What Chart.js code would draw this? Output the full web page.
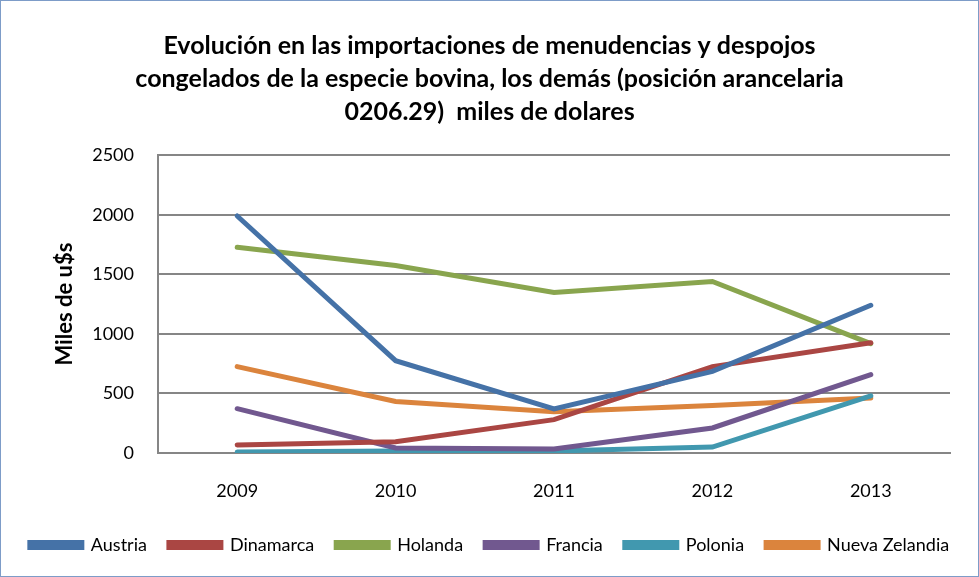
<!DOCTYPE html>
<html>
<head>
<meta charset="utf-8">
<script src="https://cdn.jsdelivr.net/npm/chart.js@4"></script>
<style>
  html, body { margin: 0; padding: 0; background: #fff; }
  #wrap { position: relative; width: 977px; height: 575px; border: 1px solid #7d9cc8; }
</style>
</head>
<body>
<div id="wrap"><canvas id="chart"></canvas></div>
<script>
// years on the x axis
var years = ['2009', '2010', '2011', '2012', '2013'];

// miles de u$s
var austria = [1990, 775, 370, 685, 1240];
var dinamarca = [68, 95, 280, 725, 925];
var holanda = [1728, 1575, 1348, 1440, 918];
var francia = [372, 42, 34, 210, 658];
var polonia = [8, 17, 17, 50, 480];
var nuevaZelandia = [725, 432, 346, 398, 462];

var seriesNames = ['Austria', 'Dinamarca', 'Holanda', 'Francia', 'Polonia', 'Nueva Zelandia'];
var seriesData = [austria, dinamarca, holanda, francia, polonia, nuevaZelandia];
var seriesColors = ['#4572a7', '#aa4643', '#89a54e', '#71588f', '#4198af', '#db843d'];

var font = "Lato, 'Open Sans', sans-serif";

const line_chart = (chartId) => {
    var datasets = seriesNames.map((name, i) => ({
        label: name,
        data: seriesData[i],
        borderColor: seriesColors[i],
        backgroundColor: seriesColors[i],
        borderWidth: 5,
        pointRadius: 0,
        tension: 0,
        borderCapStyle: 'round'
    }));

    new Chart(chartId, {
        type: 'line',
        data: { labels: years, datasets: datasets },
        options: {
            responsive: true,
            maintainAspectRatio: false,
            animation: false,
            layout: { padding: { left: 0, right: 0, top: 0, bottom: 12 } },
            plugins: {
                title: {
                    display: true,
                    text: [
                        'Evolución en las importaciones de menudencias y despojos',
                        'congelados de la especie bovina, los demás (posición arancelaria',
                        '0206.29)  miles de dolares'
                    ],
                    color: '#000',
                    font: { family: font, size: 25, weight: 'bold', lineHeight: 1.31 },
                    padding: { top: 29, bottom: 27 }
                },
                legend: {
                    position: 'bottom',
                    labels: {
                        color: '#000',
                        font: { family: font, size: 18 },
                        boxWidth: 52,
                        boxHeight: 5,
                        padding: 22
                    }
                },
                tooltip: { enabled: false }
            },
            scales: {
                x: {
                    offset: true,
                    grid: { display: false, drawTicks: false },
                    border: { display: true, color: '#868686', width: 2 },
                    ticks: { color: '#000', font: { family: font, size: 18 }, padding: 27 },
                    afterFit: (scale) => { scale.height = 61; }
                },
                y: {
                    min: 0,
                    max: 2500,
                    ticks: {
                        stepSize: 500,
                        color: '#000',
                        font: { family: font, size: 18 },
                        padding: 24,
                        callback: (value) => String(value)
                    },
                    grid: { color: '#868686', lineWidth: 2, drawTicks: false },
                    border: { display: true, color: '#868686', width: 2 },
                    title: {
                        display: true,
                        text: 'Miles de u$s',
                        color: '#000',
                        font: { family: font, size: 22, weight: 'bold' },
                        padding: { top: 51, bottom: 0 }
                    },
                    afterFit: (scale) => { scale.width = 157; }
                },
                // empty right margin so the plot stops where the reference does
                yRight: {
                    position: 'right',
                    display: true,
                    grid: { display: false, drawTicks: false },
                    border: { display: false },
                    ticks: { display: false },
                    afterFit: (scale) => { scale.width = 28; }
                }
            }
        }
    });
}

line_chart('chart');
</script>
</body>
</html>
